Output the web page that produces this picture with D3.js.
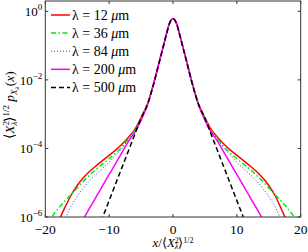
<!DOCTYPE html>
<html><head><meta charset="utf-8">
<script src="https://cdn.jsdelivr.net/npm/d3@7"></script>
<style>body{margin:0;background:#fff}svg{display:block}</style>
</head><body><svg id="c" width="308" height="252" font-family="'Liberation Serif', serif"></svg>
<script>
// shared x grid (normalised x)
const xGrid = [-20,-19,-18,-17,-16,-15,-14,-13,-12,-11,-10,-9,-8,-7,-6,-5,-4,-3,-2,-1.5,-1,-0.5,0,0.5,1,1.5,2,3,4,5,6,7,8,9,10,11,12,13,14,15,16,17,18,19,20];
// log10 of the normalised pdf for each series
const logP12  = [-7.1,-6.6,-6.15,-5.75,-5.38,-5.08,-4.85,-4.66,-4.50,-4.35,-4.20,-4.05,-3.88,-3.68,-3.45,-3.10,-2.70,-2.08,-1.36,-1.00,-0.64,-0.32,-0.21,-0.32,-0.64,-1.00,-1.36,-2.08,-2.70,-3.10,-3.45,-3.68,-3.88,-4.05,-4.20,-4.35,-4.50,-4.66,-4.85,-5.08,-5.38,-5.78,-6.2,-6.65,-7.1];
const logP36  = [-6.25,-6.0,-5.76,-5.55,-5.35,-5.15,-4.95,-4.77,-4.60,-4.45,-4.30,-4.14,-3.96,-3.72,-3.48,-3.12,-2.71,-2.09,-1.37,-1.01,-0.65,-0.33,-0.22,-0.33,-0.65,-1.01,-1.37,-2.09,-2.71,-3.12,-3.48,-3.72,-3.96,-4.14,-4.30,-4.45,-4.60,-4.77,-4.95,-5.15,-5.35,-5.55,-5.76,-6.0,-6.25];
const logP84  = [-7.3,-6.9,-6.5,-6.1,-5.70,-5.40,-5.15,-4.93,-4.75,-4.58,-4.40,-4.20,-4.00,-3.74,-3.50,-3.15,-2.72,-2.09,-1.37,-1.01,-0.65,-0.33,-0.22,-0.33,-0.65,-1.01,-1.37,-2.09,-2.72,-3.15,-3.50,-3.74,-4.00,-4.20,-4.40,-4.58,-4.75,-4.93,-5.15,-5.40,-5.70,-6.1,-6.5,-6.9,-7.3];
const logP200 = [-8.4,-8.0,-7.6,-7.2,-6.8,-6.4,-6.05,-5.72,-5.40,-5.08,-4.76,-4.44,-4.12,-3.80,-3.53,-3.18,-2.73,-2.10,-1.37,-1.01,-0.65,-0.33,-0.22,-0.33,-0.65,-1.01,-1.37,-2.10,-2.73,-3.18,-3.53,-3.80,-4.12,-4.44,-4.76,-5.08,-5.40,-5.72,-6.05,-6.4,-6.8,-7.2,-7.6,-8.0,-8.4];
const logP500 = [-10.5,-10.0,-9.5,-8.9,-8.4,-7.9,-7.44,-6.96,-6.48,-6.00,-5.52,-5.04,-4.56,-4.08,-3.60,-3.12,-2.72,-2.10,-1.37,-1.01,-0.65,-0.33,-0.22,-0.33,-0.65,-1.01,-1.37,-2.10,-2.72,-3.12,-3.60,-4.08,-4.56,-5.04,-5.52,-6.00,-6.48,-6.96,-7.44,-7.9,-8.4,-8.9,-9.5,-10.0,-10.5];
const seriesLabels = ["12","36","84","200","500"];
const xTicks = [-20,-10,0,10,20];
const yTickExps = [0,-2,-4,-6];

const seriesData = [logP12, logP36, logP84, logP200, logP500];
const styles = [
  {color:"#ff0000", width:1.5, dash:null},
  {color:"#00ee00", width:1.5, dash:"5,2.5,1.5,2.5"},
  {color:"#3333ff", width:1,   dash:"1,2"},
  {color:"#ff00ff", width:1.5, dash:null},
  {color:"#000000", width:1.5, dash:"5,3"}
];
const FF = "'Liberation Serif', serif";

const svg = d3.select("#c");
const L=45.3, R=300.7, T=1, B=217;
const x = d3.scaleLinear().domain([-20,20]).range([L,R]);
const y = d3.scaleLog().domain([1e-6,2]).range([B,T]);

svg.append("clipPath").attr("id","clip").append("rect").attr("x",L).attr("y",T).attr("width",R-L).attr("height",B-T);

const line = d3.line().x(d=>x(d[0])).y(d=>y(Math.pow(10,d[1]))).curve(d3.curveMonotoneX);
const g = svg.append("g").attr("clip-path","url(#clip)");
seriesData.forEach((s,i)=>{
  const pts = xGrid.map((xv,j)=>[xv,s[j]]);
  const p = g.append("path").attr("d",line(pts)).attr("fill","none")
    .attr("stroke",styles[i].color).attr("stroke-width",styles[i].width);
  if(styles[i].dash) p.attr("stroke-dasharray",styles[i].dash);
});

// box
const axc="#333";
svg.append("rect").attr("x",L).attr("y",T).attr("width",R-L).attr("height",B-T)
  .attr("fill","none").attr("stroke",axc).attr("stroke-width",1);

function txt(xp,yp,size){
  return svg.append("text").attr("x",xp).attr("y",yp).attr("font-size",size)
    .attr("font-family",FF).attr("fill","#000");
}

// ticks
const tl=3;
xTicks.forEach(t=>{
  const xp=x(t);
  svg.append("line").attr("x1",xp).attr("x2",xp).attr("y1",B).attr("y2",B-tl).attr("stroke",axc);
  svg.append("line").attr("x1",xp).attr("x2",xp).attr("y1",T).attr("y2",T+tl).attr("stroke",axc);
  txt(xp,233.5,13.5).attr("text-anchor","middle").text(t<0?"\u2212"+Math.abs(t):String(t));
});
yTickExps.forEach(e=>{
  const yp=y(Math.pow(10,e));
  svg.append("line").attr("x1",L).attr("x2",L+tl).attr("y1",yp).attr("y2",yp).attr("stroke",axc);
  svg.append("line").attr("x1",R).attr("x2",R-tl).attr("y1",yp).attr("y2",yp).attr("stroke",axc);
  const t=txt(L-3,yp+5,13).attr("text-anchor","end");
  t.append("tspan").text("10");
  t.append("tspan").attr("dy",-6).attr("font-size",9).text(e<0?"\u2212"+Math.abs(e):String(e));
});

// legend
seriesLabels.forEach((lab,i)=>{
  const yy=15+i*18.1;
  const st=styles[i];
  const l=svg.append("line").attr("x1",51).attr("x2",70).attr("y1",yy).attr("y2",yy)
    .attr("stroke",st.color).attr("stroke-width",st.width);
  if(st.dash) l.attr("stroke-dasharray",st.dash);
  const t=txt(72,yy+4.5,14);
  t.append("tspan").text("\u03bb = "+lab+" ");
  t.append("tspan").attr("font-style","italic").text("\u03bc");
  t.append("tspan").text("m");
});

// x label
const xl=txt(173,246.5,13).attr("text-anchor","middle");
xl.append("tspan").attr("font-style","italic").text("x");
xl.append("tspan").text("/\u27e8");
xl.append("tspan").attr("font-style","italic").text("X");
xl.append("tspan").attr("font-size",8).attr("dy",-4).text("2");
xl.append("tspan").attr("font-size",8).attr("font-style","italic").attr("dx",-4).attr("dy",6.5).text("\u03bb");
xl.append("tspan").attr("dy",-2.5).text("\u27e9");
xl.append("tspan").attr("font-size",8).attr("dy",-4).text("1/2");

// y label
const yl=svg.append("text").attr("transform","translate(14,105) rotate(-90)").attr("text-anchor","middle")
  .attr("font-size",13.5).attr("font-family",FF).attr("fill","#000");
yl.append("tspan").text("\u27e8");
yl.append("tspan").attr("font-style","italic").text("X");
yl.append("tspan").attr("font-size",9).attr("dy",-5).text("2");
yl.append("tspan").attr("font-size",9).attr("font-style","italic").attr("dx",-4.5).attr("dy",8).text("\u03bb");
yl.append("tspan").attr("dy",-3).text("\u27e9");
yl.append("tspan").attr("font-size",9).attr("dy",-5).text("1/2");
yl.append("tspan").attr("dy",5).attr("font-style","italic").text(" p");
yl.append("tspan").attr("font-size",9).attr("font-style","italic").attr("dy",3).text("X");
yl.append("tspan").attr("font-size",7).attr("font-style","italic").attr("dy",2).text("\u03bb");
yl.append("tspan").attr("dy",-5).text("(");
yl.append("tspan").attr("font-style","italic").text("x");
yl.append("tspan").text(")");
</script></body></html>
